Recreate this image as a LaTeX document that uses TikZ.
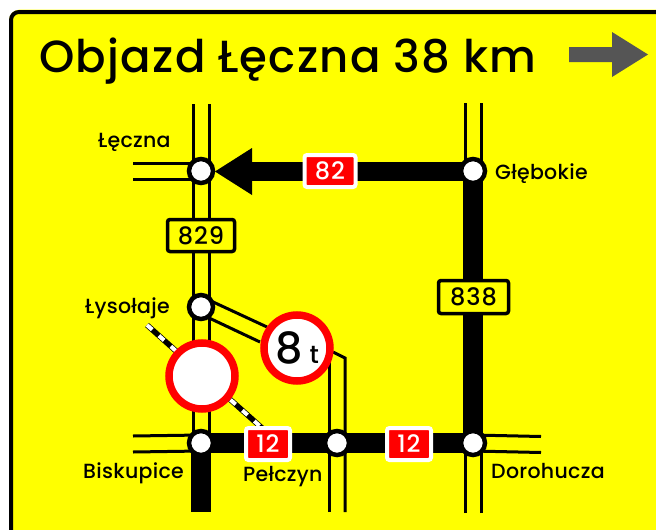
\documentclass[tikz,border=0pt]{standalone}
\usepackage{fontspec}
\setmainfont{Poppins Medium}[LetterSpace=1.5]
\newfontfamily\titlefont{Poppins Medium}[LetterSpace=2.9]
\newfontfamily\numfont{Poppins Medium}[LetterSpace=4]
\usetikzlibrary{calc}
\definecolor{signyellow}{RGB}{255,255,0}
\definecolor{signred}{RGB}{255,0,0}
\definecolor{signgrey}{RGB}{85,85,85}
\tikzset{
  thinroad/.style={draw=black,line width=3pt},
  thickroad/.style={draw=black,line width=19.5pt},
  junction/.style={circle,draw=black,fill=white,line width=4.5pt,minimum size=24pt,inner sep=0pt},
  placelabel/.style={font=\fontsize{20.5}{22}\selectfont,text=black,inner sep=0pt,anchor=base west},
  redbox/.style={draw=white,fill=signred,line width=4pt,rounded corners=2.5pt,minimum height=32pt,inner sep=0pt,text=white,font=\numfont\fontsize{24}{26}\selectfont},
  yellowbox/.style={draw=black,fill=signyellow,line width=3.5pt,rounded corners=2.5pt,inner sep=0pt,text=black,font=\numfont\fontsize{24}{26}\selectfont},
  ringsign/.style={circle,draw=signred,fill=white,line width=7.5pt,minimum size=66pt,inner sep=0pt},
}
\begin{document}
\begin{tikzpicture}[x=1pt,y=-1pt]
\useasboundingbox (0,0) rectangle (656,530);
% panel
\fill[signyellow] (9,30) -- (9,530) -- (656,530) -- (656,9.5) -- (20,9.5) arc[start angle=90,end angle=180,radius=11pt] -- cycle;
\draw[black,line width=4pt] (11,530) -- (11,20) arc[start angle=180,end angle=90,radius=8pt] -- (656,12);
% title
\node[inner sep=0pt,anchor=base west,font=\titlefont\fontsize{45}{48}\selectfont] (title) at (39,72) {Objazd Łęczna 38 km};
% grey arrow
\coordinate (gtail) at (569,54.5);
\coordinate (gtip) at (648,54.5);
\fill[signgrey] (569,47) -- (612,47) -- (612,32) -- (gtip) -- (612,77) -- (612,62) -- (569,62) -- cycle;
% anchor points
\coordinate (jL) at (201,171);
\coordinate (jG) at (473,171);
\coordinate (jY) at (201,307);
\coordinate (jB) at (201,443);
\coordinate (jP) at (337,443);
\coordinate (jD) at (473,443);
\coordinate (LW) at (133,171);
\coordinate (LN) at (201,104);
\coordinate (GN) at (473,103);
\coordinate (BW) at (133,444);
\coordinate (BS) at (201,512);
\coordinate (PS) at (337,512);
\coordinate (DE) at (541,444.5);
\coordinate (DS) at (473,513);
% thin double roads
\foreach \o in {-8,8}{
  \draw[thinroad] ($(LN)+(\o,0)$) -- ($(jB)+(\o,0)$);
  \draw[thinroad] ($(LW)+(0,\o)$) -- ($(jL)+(0,\o)$);
  \draw[thinroad] ($(GN)+(\o,0)$) -- ($(jG)+(\o,0)$);
  \draw[thinroad] ($(BW)+(0,\o)$) -- ($(jB)+(0,\o)$);
  \draw[thinroad] ($(DE)+(0,\o)$) -- ($(jD)+(0,\o)$);
  \draw[thinroad] ($(DS)+(\o,0)$) -- ($(jD)+(\o,0)$);
}
\coordinate (Pa) at (329,350);
\coordinate (Pb) at (333,352);
\coordinate (Pc) at (345,358);
\draw[thinroad] ($(PS)+(-8,0)$) -- (Pa);
\draw[thinroad,line join=miter] ($(PS)+(8,0)$) -- (Pc) -- (Pb);
\coordinate (Ya) at (267,327);
\coordinate (Yb) at (260,342);
\draw[thinroad] (jY) ++(10,-6) -- (Ya);
\draw[thinroad] (jY) ++(6,10) -- (Yb);
% thick roads
\draw[thickroad] (252,171.5) -- (jG |- 0,171.5) -- (jD);
\draw[thickroad] (jB) -- (jD);
\draw[thickroad] (jB) -- (BS);
\fill[black] (215,171.5) -- (252,148) -- (252,195) -- cycle;
% level crossing
\coordinate (Ra) at (147,325);
\coordinate (Rb) at (262,428);
\draw[black,line width=5.5pt] (Ra) -- (Rb);
\draw[white,line width=4pt,dash pattern=on 7pt off 9pt] (Ra) -- (Rb);
% round signs
\node[ringsign] (ban) at (202,376) {};
\node[ringsign] (ton) at (297,348) {\fontsize{43}{46}\selectfont 8\hspace{7pt}\fontsize{25}{26}\selectfont t};
% road number boxes
\node[redbox,minimum width=51pt] (r82) at (330,171) {82};
\node[redbox,minimum width=44pt] (r12a) at (268,444) {12};
\node[redbox,minimum width=44pt] (r12b) at (409,444) {12};
\node[yellowbox,minimum width=67pt,minimum height=32pt] (y829) at (201,235.5) {829};
\node[yellowbox,minimum width=70pt,minimum height=33pt] (y838) at (473.5,297) {838};
% junctions
\node[junction] (nL) at (jL) {};
\node[junction] (nG) at (jG) {};
\node[junction] (nY) at (jY) {};
\node[junction] (nB) at (jB) {};
\node[junction] (nP) at (jP) {};
\node[junction] (nD) at (jD) {};
% labels
\node[placelabel] (tL) at (98,147) {Łęczna};
\node[placelabel] (tG) at (495,179) {Głębokie};
\node[placelabel] (tY) at (85,313) {Łysołaje};
\node[placelabel] (tB) at (83,478) {Biskupice};
\node[placelabel] (tP) at (243,481) {Pełczyn};
\node[placelabel] (tD) at (491,478) {Dorohucza};
\end{tikzpicture}
\end{document}
